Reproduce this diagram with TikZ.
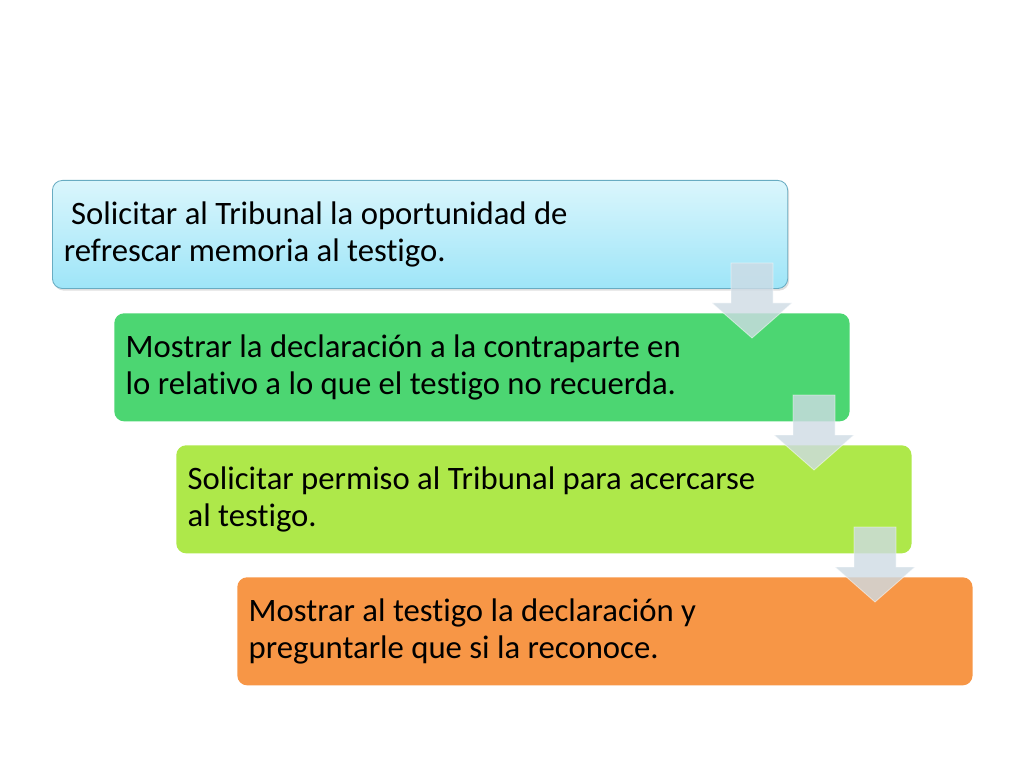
\documentclass[tikz,border=0pt]{standalone}
\usepackage{fontspec}
\setmainfont{Carlito}[Ligatures=NoCommon]
\usetikzlibrary{shadows}
\definecolor{stepblueA}{RGB}{218,246,252}
\definecolor{stepblueB}{RGB}{158,229,248}
\definecolor{stepblueline}{RGB}{104,172,194}
\definecolor{stepgreen}{RGB}{76,214,114}
\definecolor{steplime}{RGB}{174,232,74}
\definecolor{steporange}{RGB}{247,150,70}
\definecolor{arrowgrey}{RGB}{206,219,228}
\begin{document}
\begin{tikzpicture}[x=0.703125pt,y=-0.703125pt,
    stepbox/.style={anchor=north west,rounded corners=7pt,minimum width=517pt,
      minimum height=76pt,text width=501pt,inner xsep=8pt,align=flush left,
      font=\fontsize{23}{26}\selectfont},
    flowarrow/.style={fill=arrowgrey,fill opacity=0.8,draw=white,draw opacity=0.5,line width=0.6pt}]
  \useasboundingbox (0,0) rectangle (1024,768);
  % the four steps
  \node[stepbox,top color=stepblueA,bottom color=stepblueB,draw=stepblueline,line width=0.6pt,
    drop shadow={shadow xshift=1pt,shadow yshift=-1.5pt,opacity=0.25}] (solicitar) at (52,180)
    {\ Solicitar al Tribunal la oportunidad de\\refrescar memoria al testigo.};
  \node[stepbox,fill=stepgreen] (mostrar) at (114,313)
    {Mostrar la declaración a la contraparte en\\lo relativo a lo que el testigo no recuerda.};
  \node[stepbox,fill=steplime] (permiso) at (176,445)
    {Solicitar permiso al Tribunal para acercarse\\al testigo.};
  \node[stepbox,fill=steporange] (reconoce) at (237,577)
    {Mostrar al testigo la declaración y\\preguntarle que si la reconoce.};
  % arrows between the steps
  \foreach \cx/\ty in {752/263, 814/395, 875/527}
    \draw[flowarrow] (\cx-21,\ty) -- ++(42,0) -- ++(0,40) -- ++(19,0) -- (\cx,\ty+75)
      -- (\cx-40,\ty+40) -- ++(19,0) -- cycle;
\end{tikzpicture}
\end{document}
